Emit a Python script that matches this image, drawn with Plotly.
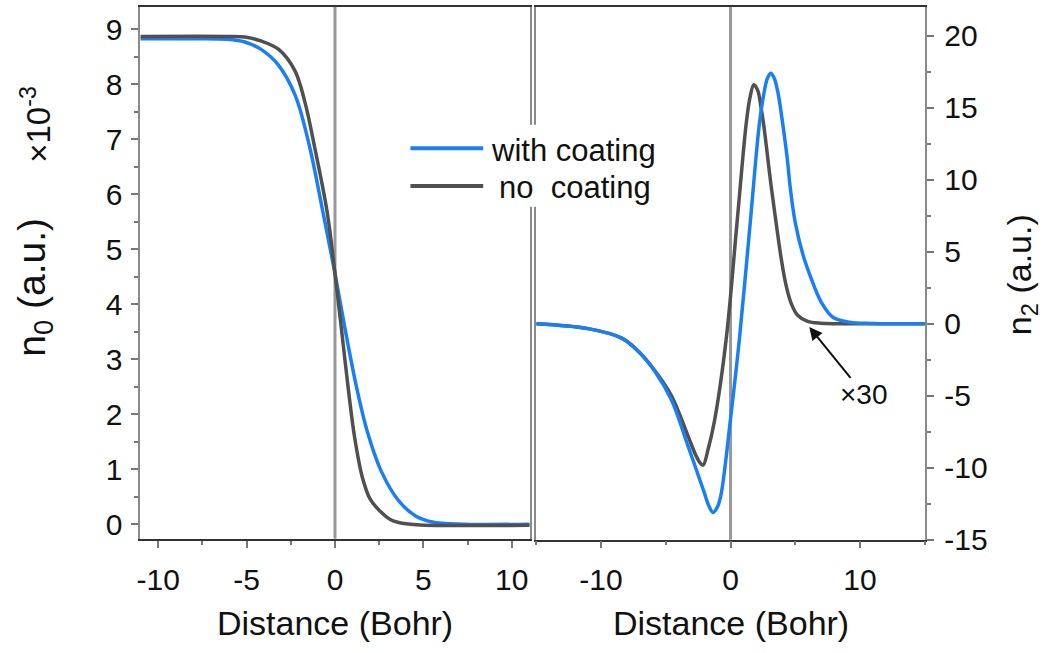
import plotly.graph_objects as go

# ---------------- data ----------------
# Left panel: n0 (x 1e-3)
x_n0_coat = [-11, -8, -6.1, -5.1, -4.2, -3.2, -2.25, -1.44, -0.69, 0, 0.53, 1.18, 1.84, 2.62, 3.59, 4.56, 5.5, 7.3, 11]
y_n0_coat = [8.83, 8.83, 8.82, 8.77, 8.64, 8.35, 7.8, 6.87, 5.69, 4.56, 3.62, 2.55, 1.67, 0.96, 0.43, 0.15, 0.04, 0.0, 0.0]

x_n0_bare = [-11, -6, -5.1, -4.2, -3.2, -2.27, -1.68, -1.16, -0.45, 0, 0.34, 0.76, 1.1, 1.55, 2.0, 2.6, 3.1, 3.6, 4.6, 11]
y_n0_bare = [8.87, 8.87, 8.86, 8.79, 8.64, 8.25, 7.65, 6.87, 5.69, 4.56, 3.62, 2.44, 1.6, 0.85, 0.45, 0.22, 0.09, 0.03, -0.01, -0.02]

# Right panel: n2
x_n2_coat = [-15, -11, -8.4, -7.1, -5.85, -4.56, -3.28, -2.0, -1.7, -1.35, -1.0, -0.72, 0, 0.69, 1.53, 2.23, 2.62,
             2.85, 3.1, 3.35, 3.64, 4.03, 4.36, 4.62, 4.98, 5.57, 6.46, 7.0, 7.9, 9.2, 11, 15]
y_n2_coat = [0, -0.34, -1.0, -1.93, -3.3, -5.3, -8.5, -11.8, -12.6, -13.1, -12.7, -11.8, -6.6, -1.02, 7.1, 13.9, 16.2,
             17.05, 17.4, 17.1, 16.15, 13.89, 11.63, 9.38, 7.11, 4.86, 2.6, 1.5, 0.45, 0.1, 0.02, 0]

x_n2_bare = [-15, -11, -8.4, -7.1, -5.85, -4.56, -3.28, -2.7, -2.4, -2.12, -1.74, -1.23, -0.33, 0.51, 1.21, 1.5, 1.8,
             2.1, 2.36, 2.57, 3.13, 3.52, 3.9, 4.28, 4.67, 5.18, 5.95, 7.0, 9.5, 15]
y_n2_bare = [0, -0.34, -1.0, -1.93, -3.25, -5.0, -7.8, -9.1, -9.6, -9.82, -8.75, -6.7, -1.02, 7.1, 13.9, 15.7, 16.6,
             16.2, 15.0, 13.75, 9.6, 7.0, 4.6, 2.7, 1.45, 0.59, 0.16, 0.03, 0.0, 0.0]

series_names = ["with coating", "no\u00a0 coating"]
series_colors = ["#1a7ff5", "#505050"]

left_x_ticks = [-10, -5, 0, 5, 10]
left_x_labels = ["-10", "-5", "0", "5", "10"]
left_x_minor = [-7.5, -2.5, 2.5, 7.5]
left_y_ticks = [0, 1, 2, 3, 4, 5, 6, 7, 8, 9]
left_y_labels = ["0", "1", "2", "3", "4", "5", "6", "7", "8", "9"]
left_y_minor = [0.5, 1.5, 2.5, 3.5, 4.5, 5.5, 6.5, 7.5, 8.5]

right_x_ticks = [-10, 0, 10]
right_x_labels = ["-10", "0", "10"]
right_x_minor = [-15, -5, 5, 15]
right_y_ticks = [-15, -10, -5, 0, 5, 10, 15, 20]
right_y_labels = ["-15", "-10", "-5", "0", "5", "10", "15", "20"]
right_y_minor = [-12.5, -7.5, -2.5, 2.5, 7.5, 12.5, 17.5]

x_title = "Distance (Bohr)"
left_y_title = "n<sub>0</sub>\u00a0(a.u.)"
left_y_scale = "×10<sup>-3</sup>"
right_y_title = "n<sub>2</sub> (a.u.)"
arrow_text = "×30"

# ---------------- figure ----------------
W, H = 1045, 653
FONT = "Arial, Liberation Sans, sans-serif"

def px(xp):
    return xp / W

def py(yp):
    return 1 - yp / H

fig = go.Figure()
LW = 3.5
SM = 1.0
fig.add_trace(go.Scatter(x=x_n0_coat, y=y_n0_coat, mode="lines", xaxis="x", yaxis="y",
                         line=dict(color=series_colors[0], width=LW, shape="spline", smoothing=SM),
                         showlegend=False))
fig.add_trace(go.Scatter(x=x_n0_bare, y=y_n0_bare, mode="lines", xaxis="x", yaxis="y",
                         line=dict(color=series_colors[1], width=LW, shape="spline", smoothing=SM),
                         showlegend=False))
fig.add_trace(go.Scatter(x=x_n2_bare, y=y_n2_bare, mode="lines", xaxis="x2", yaxis="y2",
                         line=dict(color=series_colors[1], width=LW, shape="spline", smoothing=SM),
                         showlegend=False))
fig.add_trace(go.Scatter(x=x_n2_coat, y=y_n2_coat, mode="lines", xaxis="x2", yaxis="y2",
                         line=dict(color=series_colors[0], width=LW, shape="spline", smoothing=SM),
                         showlegend=False))

tickfont = dict(family=FONT, size=30, color="#111")
XLINE = "#333333"
YLINE = "#8a8a8a"
TICKC = "#777777"

fig.update_layout(
    width=W, height=H, margin=dict(l=0, r=0, t=0, b=0),
    paper_bgcolor="white", plot_bgcolor="white",
    font=dict(family=FONT, color="#111"),
    xaxis=dict(domain=[px(136.7), px(528)], range=[-11.02, 11.03], anchor="y",
               tickmode="array", tickvals=left_x_ticks, ticktext=left_x_labels,
               ticks="outside", ticklen=7, tickwidth=1.5, tickcolor=TICKC,
               minor=dict(tickmode="array", tickvals=left_x_minor, ticks="outside", ticklen=4,
                          tickwidth=1.5, tickcolor=TICKC, showgrid=False),
               showline=True, linecolor=XLINE, linewidth=1.5, mirror=True,
               showgrid=False, zeroline=False, tickfont=tickfont, ticklabelstandoff=6),
    yaxis=dict(domain=[py(552.3), py(7)], range=[-0.266, 9.41], anchor="x",
               tickmode="array", tickvals=left_y_ticks, ticktext=left_y_labels,
               ticks="outside", ticklen=7, tickwidth=1.5, tickcolor=TICKC,
               minor=dict(tickmode="array", tickvals=left_y_minor, ticks="outside", ticklen=4,
                          tickwidth=1.5, tickcolor=TICKC, showgrid=False),
               showline=True, linecolor=YLINE, linewidth=1.5, mirror=True,
               showgrid=False, zeroline=False, tickfont=tickfont, ticklabelstandoff=3),
    xaxis2=dict(domain=[px(534.3), px(925)], range=[-15, 15.05], anchor="y2",
                tickmode="array", tickvals=right_x_ticks, ticktext=right_x_labels,
                ticks="outside", ticklen=7, tickwidth=1.5, tickcolor=TICKC,
                minor=dict(tickmode="array", tickvals=right_x_minor, ticks="outside", ticklen=4,
                           tickwidth=1.5, tickcolor=TICKC, showgrid=False),
                showline=True, linecolor=XLINE, linewidth=1.5, mirror=True,
                showgrid=False, zeroline=False, tickfont=tickfont, ticklabelstandoff=6),
    yaxis2=dict(domain=[py(553.3), py(7)], range=[-15, 22.01], anchor="x2", side="right",
                tickmode="array", tickvals=right_y_ticks, ticktext=right_y_labels,
                ticks="outside", ticklen=7, tickwidth=1.5, tickcolor=TICKC,
                minor=dict(tickmode="array", tickvals=right_y_minor, ticks="outside", ticklen=4,
                           tickwidth=1.5, tickcolor=TICKC, showgrid=False),
                showline=True, linecolor=YLINE, linewidth=1.5, mirror=True,
                showgrid=False, zeroline=False, tickfont=tickfont, ticklabelstandoff=4),
)

# vertical reference lines at x = 0
for xr, yr in (("x", "y domain"), ("x2", "y2 domain")):
    fig.add_shape(type="line", xref=xr, yref=yr, x0=0, x1=0, y0=0, y1=1,
                  line=dict(color="#999999", width=3), layer="below")

# legend (drawn manually)
fig.add_shape(type="rect", xref="paper", yref="paper", x0=px(505), x1=px(545), y0=py(212), y1=py(128),
              fillcolor="white", line=dict(width=0), layer="above")
for i, yy in enumerate((152, 190.7)):
    fig.add_shape(type="line", xref="paper", yref="paper", x0=px(408), x1=px(481), y0=py(yy), y1=py(yy),
                  line=dict(color=series_colors[i], width=4), layer="above")
legfont = dict(family=FONT, size=31, color="#111")
fig.add_annotation(xref="paper", yref="paper", x=px(487), y=py(154), text=series_names[0],
                   showarrow=False, xanchor="left", yanchor="middle", font=legfont)
fig.add_annotation(xref="paper", yref="paper", x=px(495), y=py(192), text=series_names[1],
                   showarrow=False, xanchor="left", yanchor="middle", font=legfont)

# axis titles
titlefont = dict(family=FONT, size=34, color="#111")
fig.add_annotation(xref="x", yref="paper", x=0, y=py(639), text=x_title, showarrow=False,
                   xanchor="center", yanchor="middle", font=titlefont)
fig.add_annotation(xref="x2", yref="paper", x=0, y=py(639), text=x_title, showarrow=False,
                   xanchor="center", yanchor="middle", font=titlefont)
fig.add_annotation(xref="paper", yref="paper", x=px(31), y=py(294), text=left_y_title, showarrow=False,
                   textangle=-90, xanchor="center", yanchor="middle",
                   font=dict(family=FONT, size=39, color="#111"))
fig.add_annotation(xref="paper", yref="paper", x=px(32), y=py(127), text=left_y_scale, showarrow=False,
                   textangle=-90, xanchor="center", yanchor="middle",
                   font=dict(family=FONT, size=33, color="#111"))
fig.add_annotation(xref="paper", yref="paper", x=px(1021), y=py(282), text=right_y_title, showarrow=False,
                   textangle=-90, xanchor="center", yanchor="middle",
                   font=dict(family=FONT, size=34, color="#111"))

# x30 arrow annotation
fig.add_annotation(xref="x2", yref="y2", x=6.08, y=-0.22, text=arrow_text, showarrow=True,
                   ax=55, ay=68, arrowhead=2, arrowsize=1.3, arrowwidth=2, arrowcolor="#111",
                   font=dict(family=FONT, size=28, color="#111"))

fig.write_html("out.html")
